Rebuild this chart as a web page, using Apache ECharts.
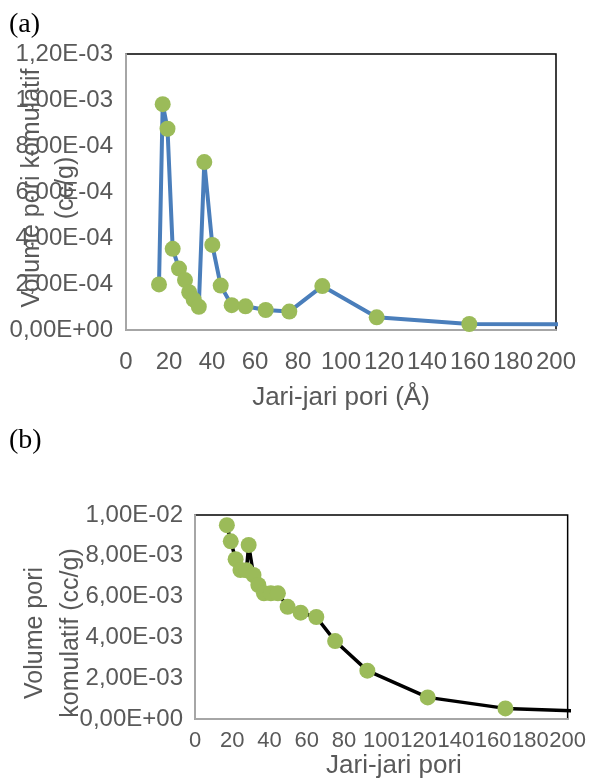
<!DOCTYPE html>
<html>
<head>
<meta charset="utf-8">
<script src="https://cdn.jsdelivr.net/npm/echarts@6/dist/echarts.min.js"></script>
<style>
html,body{margin:0;padding:0;background:#fff;}
#c{width:589px;height:780px;}
</style>
</head>
<body>
<div id="c"></div>
<script>
// ---- data (a): pore size distribution ----
const radiusA = [15.35, 17.07, 19.3, 21.72, 24.65, 27.44, 29.4, 31.49, 33.86, 36.42, 40.14, 44.05, 49.16, 55.58, 64.98, 75.95, 91.3, 116.6, 159.67, 250];
const volumeA = [1.98e-4, 9.82e-4, 8.75e-4, 3.53e-4, 2.67e-4, 2.17e-4, 1.64e-4, 1.32e-4, 1.01e-4, 7.30e-4, 3.70e-4, 1.93e-4, 1.08e-4, 1.03e-4, 8.7e-5, 8.0e-5, 1.91e-4, 5.5e-5, 2.6e-5, 2.4e-5];
// ---- data (b): cumulative pore volume ----
const radiusB = [17.1, 19.2, 21.8, 24.4, 27.6, 28.8, 31.4, 34.0, 37.0, 40.7, 44.5, 49.7, 56.7, 65.1, 75.2, 92.5, 124.9, 166.6, 250];
const volumeB = [9.50e-3, 8.71e-3, 7.83e-3, 7.30e-3, 7.29e-3, 8.53e-3, 7.06e-3, 6.57e-3, 6.16e-3, 6.16e-3, 6.16e-3, 5.50e-3, 5.21e-3, 5.00e-3, 3.82e-3, 2.37e-3, 1.06e-3, 5.2e-4, 2.5e-4];
// ---- ticks ----
const xTicks = [0, 20, 40, 60, 80, 100, 120, 140, 160, 180, 200];
const yTicksA = [0, 2e-4, 4e-4, 6e-4, 8e-4, 1e-3, 1.2e-3];
const yTicksB = [0, 2e-3, 4e-3, 6e-3, 8e-3, 1e-2];
// ---- texts ----
const xTitleA = 'Jari-jari pori (Å)';
const yTitleA = 'Volume pori komulatif\n(cc/g)';
const xTitleB = 'Jari-jari pori';
const yTitleB = 'Volume pori\nkomulatif (cc/g)';

function sci(v) {
  const s = Number(v).toExponential(2).split('e');
  const e = s[1];
  const sign = e[0] === '-' ? '-' : '+';
  const d = e.replace(/[+-]/, '').padStart(2, '0');
  return s[0].replace('.', ',') + 'E' + sign + d;
}
const FONT = '"Liberation Sans", Arial, sans-serif';
const GRAY = '#595959';
const AXIS = '#A6A6A6';

function xAxisCfg(idx, fs, margin) {
  return {
    type: 'value', gridIndex: idx,
    min: xTicks[0], max: xTicks[xTicks.length - 1], interval: xTicks[1] - xTicks[0],
    axisLine: { show: true, lineStyle: { color: AXIS, width: 2 } },
    axisTick: { show: false },
    splitLine: { show: false },
    axisLabel: { color: GRAY, fontSize: fs, fontFamily: FONT, margin: margin, hideOverlap: false, showMinLabel: true, showMaxLabel: true }
  };
}
function yAxisCfg(idx, ticks, margin) {
  return {
    type: 'value', gridIndex: idx,
    min: ticks[0], max: ticks[ticks.length - 1], interval: ticks[1] - ticks[0],
    axisLine: { show: true, lineStyle: { color: AXIS, width: 2 } },
    axisTick: { show: false },
    splitLine: { show: false },
    axisLabel: { color: GRAY, fontSize: 24, fontFamily: FONT, margin: margin, formatter: sci, showMinLabel: true, showMaxLabel: true }
  };
}

const chart = echarts.init(document.getElementById('c'), null, { renderer: 'canvas' });
chart.setOption({
  animation: false,
  backgroundColor: '#fff',
  grid: [
    { left: 126, top: 54, width: 430, height: 276, show: true, borderColor: '#000', borderWidth: 1.5, backgroundColor: 'transparent' },
    { left: 195, top: 515, width: 382, height: 204, show: true, borderColor: '#000', borderWidth: 1.5, backgroundColor: 'transparent' }
  ],
  xAxis: [xAxisCfg(0, 24, 20), xAxisCfg(1, 22, 11)],
  yAxis: [yAxisCfg(0, yTicksA, 13), yAxisCfg(1, yTicksB, 12)],
  series: [
    {
      type: 'line', xAxisIndex: 0, yAxisIndex: 0, clip: true,
      data: radiusA.map((r, i) => [r, volumeA[i]]),
      lineStyle: { color: '#4A7EBB', width: 4 },
      symbol: 'circle', symbolSize: 16,
      itemStyle: { color: '#9BBB59' },
      z: 3
    },
    {
      type: 'line', xAxisIndex: 1, yAxisIndex: 1, clip: true,
      data: radiusB.map((r, i) => [r, volumeB[i]]),
      lineStyle: { color: '#000', width: 3.5 },
      symbol: 'circle', symbolSize: 16,
      itemStyle: { color: '#9BBB59' },
      z: 3
    }
  ],
  graphic: [
    { type: 'text', left: 9, top: 11, style: { text: '(a)', font: '28px "Liberation Serif", "Times New Roman", serif', fill: '#000' } },
    { type: 'text', left: 9, top: 427, style: { text: '(b)', font: '28px "Liberation Serif", "Times New Roman", serif', fill: '#000' } },
    { type: 'text', x: 341, y: 398, style: { text: xTitleA, font: '26px ' + FONT, fill: GRAY, align: 'center', verticalAlign: 'middle' } },
    { type: 'text', x: 394, y: 766, style: { text: xTitleB, font: '26px ' + FONT, fill: GRAY, align: 'center', verticalAlign: 'middle' } },
    { type: 'text', x: 49, y: 188, rotation: Math.PI / 2, style: { text: yTitleA, font: '25px ' + FONT, fill: GRAY, align: 'center', verticalAlign: 'middle', lineHeight: 34 } },
    { type: 'text', x: 53, y: 633, rotation: Math.PI / 2, style: { text: yTitleB, font: '25px ' + FONT, fill: GRAY, align: 'center', verticalAlign: 'middle', lineHeight: 36 } }
  ]
});
</script>
</body>
</html>
